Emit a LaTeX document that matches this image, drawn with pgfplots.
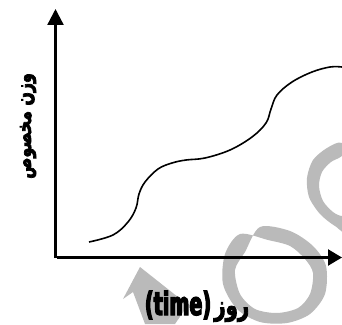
\documentclass[border=0pt]{standalone}
\usepackage{fontspec}
\usepackage{pgfplots}
\pgfplotsset{compat=1.18}
\usetikzlibrary{arrows.meta}
\setmainfont{DejaVu Sans}
\newfontfamily\heavylatin[FakeBold=4, FakeStretch=0.6]{DejaVu Sans Bold}
\newfontfamily\heavyarabic[Script=Arabic, FakeBold=3, FakeStretch=0.7]{DejaVu Sans Bold}
\newfontfamily\yarabic[Script=Arabic, FakeBold=3.5, FakeStretch=0.75]{DejaVu Sans Bold}
\TeXXeTstate=1
\definecolor{wm}{gray}{0.73}
\begin{document}
\begin{tikzpicture}
\begin{axis}[
  scale only axis, width=342pt, height=324pt,
  xmin=0, xmax=342, ymin=0, ymax=324,
  hide axis, clip=true,
]
% watermark shapes
\addplot[fill=wm, draw=none, smooth cycle, even odd rule] coordinates {
  (260,97) (290,93) (313,78) (326,58) (325,30) (310,10) (287,1) (260,2) (237,15) (223,40) (225,70) (240,90)
  (268,84) (290,78) (305,65) (313,51) (310,30) (298,16) (277,11) (255,15) (240,30) (235,54) (245,72)
};
\addplot[fill=wm, draw=none, smooth cycle, even odd rule] coordinates {
  (342,181) (327,176) (313,164) (307,146) (309,127) (320,110) (335,98) (350,92) (365,140) (355,182)
  (342,168) (331,162) (322,152) (319,138) (323,123) (333,112) (342,108) (350,112) (352,160)
};
\addplot[fill=wm, draw=none] coordinates {
  (140,57) (188,19) (175,0) (145,0) (133,32) (123,25) (140,57)
};
% axes
\addplot[line width=2.3pt, -{Triangle[width=16pt,length=16pt]}] coordinates {(55.5,66) (55.5,315)};
\addplot[line width=2.3pt, -{Triangle[width=16pt,length=14pt]}] coordinates {(57,66.5) (342,66.5)};
% curve
\addplot[line width=1.6pt, smooth, tension=0.6] coordinates {
  (89,82) (113,89) (128,102) (136,116) (139,130) (145,142) (158,155) (172,161) (186,164)
  (205,166) (230,174) (252,187) (266,201) (271,215) (277,229) (292,242) (312,252) (330,257) (342,257)
};
\addplot[draw=none] coordinates {(0,0) (342,324)};
\node[rotate=90, inner sep=0pt, font=\yarabic\fontsize{21}{21}\selectfont] at (axis cs:28,198) {\beginR وزن مخصوص\endR};
\node[inner sep=0pt, anchor=base] at (axis cs:197,9) {{\heavylatin\fontsize{32}{32}\selectfont (time)} {\heavyarabic\fontsize{28}{28}\selectfont\beginR روز\endR}};
\end{axis}
\end{tikzpicture}
\end{document}
